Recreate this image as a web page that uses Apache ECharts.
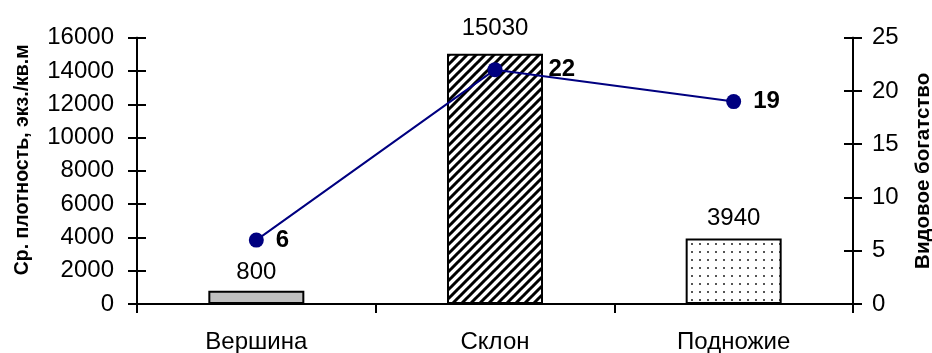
<!DOCTYPE html>
<html>
<head>
<meta charset="utf-8">
<script src="https://cdn.jsdelivr.net/npm/echarts@6/dist/echarts.min.js"></script>
<style>
html,body{margin:0;padding:0;background:#fff;}
#chart{width:932px;height:353px;}
</style>
</head>
<body>
<div id="chart"></div>
<script>
const categories = ['Вершина', 'Склон', 'Подножие'];
const density = [800, 15030, 3940];
const richness = [6, 22, 19];
const leftTicks = { min: 0, max: 16000, interval: 2000 };
const rightTicks = { min: 0, max: 25, interval: 5 };

const FONT = 'Liberation Sans, Arial, sans-serif';

function hatchPattern() {
  const s = 9;
  const c = document.createElement('canvas');
  c.width = s; c.height = s;
  const g = c.getContext('2d');
  g.fillStyle = '#fff'; g.fillRect(0, 0, s, s);
  g.strokeStyle = '#000'; g.lineWidth = 3;
  g.beginPath();
  g.moveTo(-1, s + 1); g.lineTo(s + 1, -1);
  g.moveTo(-1, 1); g.lineTo(1, -1);
  g.moveTo(s - 1, s + 1); g.lineTo(s + 1, s - 1);
  g.stroke();
  return c;
}
function dotPattern() {
  const s = 8;
  const c = document.createElement('canvas');
  c.width = s; c.height = s;
  const g = c.getContext('2d');
  g.fillStyle = '#fff'; g.fillRect(0, 0, s, s);
  g.fillStyle = '#555'; g.fillRect(3, 3, 2, 2);
  return c;
}

const barFills = [
  '#c0c0c0',
  { image: hatchPattern(), repeat: 'repeat' },
  { image: dotPattern(), repeat: 'repeat' }
];
const barLabelDistance = [6, 13, 8];
const lineLabelDistance = [12, 46, 12];

const chart = echarts.init(document.getElementById('chart'), null, { renderer: 'canvas' });

function yAxisBase(range, pos, showLabel, inside) {
  return {
    type: 'value', position: pos, min: range.min, max: range.max, interval: range.interval,
    axisLine: { show: true, lineStyle: { color: '#000', width: 2 } },
    axisTick: { show: true, inside: inside, length: 9, lineStyle: { color: '#000', width: 2 } },
    axisLabel: { show: showLabel, fontSize: 24, color: '#000', fontFamily: FONT, formatter: v => String(v) },
    splitLine: { show: false }
  };
}

const yLeft = yAxisBase(leftTicks, 'left', true, false);
yLeft.axisLabel.margin = 23;
yLeft.name = 'Ср. плотность, экз./кв.м';
yLeft.nameLocation = 'middle';
yLeft.nameRotate = 90;
yLeft.nameGap = 104;
yLeft.nameTextStyle = { fontSize: 19.5, fontWeight: 'bold', color: '#000', fontFamily: FONT, padding: [0, 0, 0, 22] };

const yRight = yAxisBase(rightTicks, 'right', true, false);
yRight.axisLabel.margin = 19;
yRight.name = 'Видовое богатство';
yRight.nameLocation = 'middle';
yRight.nameRotate = 90;
yRight.nameGap = 60;
yRight.nameTextStyle = { fontSize: 20.5, fontWeight: 'bold', color: '#000', fontFamily: FONT };

const yLeftIn = yAxisBase(leftTicks, 'left', false, true);
const yRightIn = yAxisBase(rightTicks, 'right', false, true);

const option = {
  animation: false,
  backgroundColor: '#fff',
  grid: { left: 137, right: 79, top: 37.7, bottom: 49, containLabel: false, outerBoundsMode: 'none' },
  xAxis: {
    type: 'category', data: categories,
    axisLine: { lineStyle: { color: '#000', width: 2 } },
    axisTick: { show: true, length: 9, lineStyle: { color: '#000', width: 2 } },
    axisLabel: { fontSize: 24, color: '#000', fontFamily: FONT, margin: 26 }
  },
  yAxis: [yLeft, yRight, yLeftIn, yRightIn],
  series: [
    {
      type: 'bar', yAxisIndex: 0, barWidth: 96,
      data: density.map((v, i) => ({
        value: v,
        itemStyle: { color: barFills[i], borderColor: '#000', borderWidth: 2 },
        label: { distance: barLabelDistance[i] }
      })),
      label: { show: true, position: 'top', fontSize: 24, color: '#000', fontFamily: FONT }
    },
    {
      type: 'line', yAxisIndex: 1, symbol: 'circle', symbolSize: 15,
      lineStyle: { color: '#000080', width: 2 },
      itemStyle: { color: '#000080' },
      data: richness.map((v, i) => ({ value: v, label: { distance: lineLabelDistance[i] } })),
      label: { show: true, position: 'right', fontSize: 24, fontWeight: 'bold', color: '#000', fontFamily: FONT },
      z: 5
    }
  ]
};
chart.setOption(option);
</script>
</body>
</html>
